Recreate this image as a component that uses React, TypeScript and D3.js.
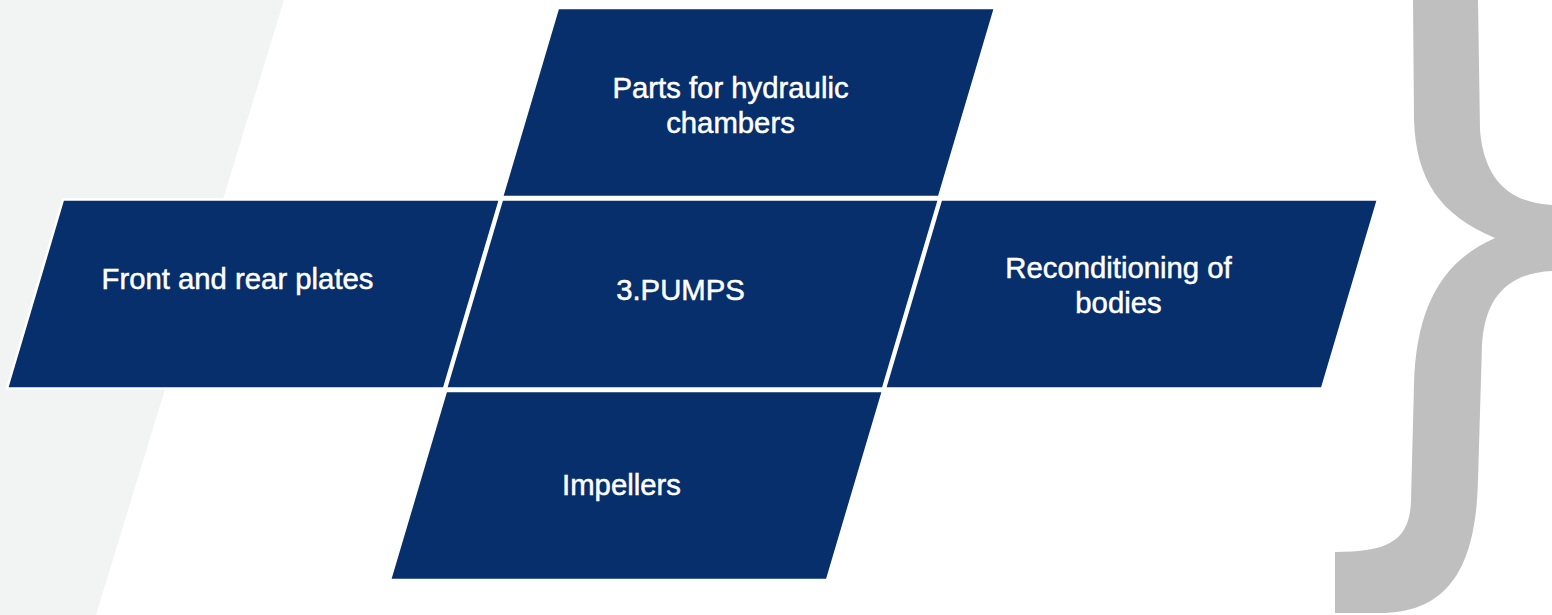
import React from "react";
import * as d3 from "d3";

// ---- data ----
const categories: string[][] = [
  ["Parts for hydraulic", "chambers"],
  ["Front and rear plates"],
  ["3.PUMPS"],
  ["Reconditioning of", "bodies"],
  ["Impellers"],
];
// lattice positions (column, row) of each tile
const cols = [0, -1, 0, 1, 0];
const rows = [-1, 0, 0, 0, 1];
// label offsets from tile centre (dx, baseline of first line)
const labelDx = [-18, -16, -12, -13, -15];
const labelDy = [-5, -5, 6, -16, 9.5];

const W = 1552;
const H = 615;
const tileW = 437;
const tileH = 189;
const skew = 56;
const navy = "#072F6B";

export default function App() {
  const x = d3.scaleLinear().domain([-1, 1]).range([63, 941]);
  const y = d3.scaleLinear().domain([-1, 1]).range([8, 391]);
  const line = d3.line<[number, number]>();

  const tiles = categories.map((lab, i) => {
    const x0 = x(cols[i]) - rows[i] * skew;
    const y0 = y(rows[i]);
    const pts: [number, number][] = [
      [x0, y0],
      [x0 + tileW, y0],
      [x0 + tileW - skew, y0 + tileH],
      [x0 - skew, y0 + tileH],
    ];
    const cx = x0 + tileW / 2 - skew / 2;
    const cy = y0 + tileH / 2;
    return { lab, pts, cx, cy, i };
  });

  const grayBg = line([
    [0, 0],
    [284, 0],
    [96, H],
    [0, H],
  ]) + "Z";

  const brace =
    "M 1413 0 L 1478 0 L 1480 130 C 1484 180, 1510 203, 1552 205 L 1552 271 " +
    "C 1510 273, 1485 295, 1482 345 L 1478 480 C 1476 565, 1450 613, 1380 613 " +
    "L 1335 613 L 1335 552 C 1390 552, 1410 540, 1411 500 L 1414 385 " +
    "C 1416 310, 1440 262, 1495 238 C 1440 215, 1416 180, 1414 120 Z";

  return (
    <svg
      width={W}
      height={H}
      viewBox={`0 0 ${W} ${H}`}
      style={{ position: "fixed", left: 0, top: 0, background: "#ffffff" }}
    >
      <path d={grayBg} fill="#F2F3F3" />
      <path d={brace} fill="#BFBFBF" />
      {tiles.map((t) => (
        <g key={t.i}>
          <path
            d={line(t.pts) + "Z"}
            fill={navy}
            stroke="#ffffff"
            strokeWidth={2.5}
            strokeLinejoin="miter"
          />
          <text
            x={t.cx + labelDx[t.i]}
            y={t.cy + labelDy[t.i]}
            fill="#ffffff"
            stroke="#ffffff"
            strokeWidth={0.5}
            fontFamily="'Liberation Sans', Arial, sans-serif"
            fontSize={29.3}
            textAnchor="middle"
          >
            {t.lab.map((s, j) => (
              <tspan key={j} x={t.cx + labelDx[t.i]} dy={j === 0 ? 0 : 35}>
                {s}
              </tspan>
            ))}
          </text>
        </g>
      ))}
    </svg>
  );
}
